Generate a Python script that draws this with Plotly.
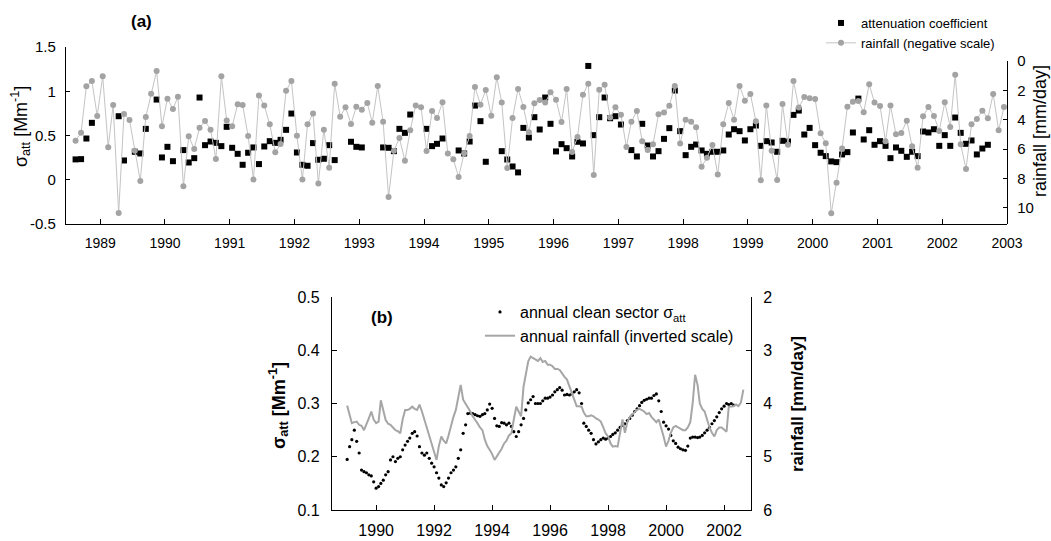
import pandas as pd
import plotly.graph_objects as go

W, H = 1051, 541
def px(x): return x / W
def py(y): return 1 - y / H

# ---------------- panel (a): monthly values, Aug 1988 - Dec 2002 ----------------
months_a = pd.date_range('1988-08-01', periods=173, freq='MS') + pd.Timedelta(days=14)

atten = [0.23, 0.233, 0.466, 0.643, None, None, None, None, 0.718, 0.218,
         None, 0.316, 0.297, 0.575, None, 0.906, 0.252, 0.372, 0.21, None,
         0.335, 0.195, 0.244, 0.929, 0.391, 0.432, 0.417, 0.38, 0.598, 0.361,
         0.293, 0.169, 0.305, 0.365, 0.177, 0.376, 0.436, 0.417, 0.451, 0.564,
         0.748, 0.308, 0.169, 0.158, 0.414, 0.226, 0.237, 0.391, 0.222, None,
         None, 0.429, 0.372, 0.365, None, None, None, 0.365, 0.361, 0.323,
         0.575, 0.530, 0.737, None, None, 0.575, 0.380, 0.406, 0.466, None,
         None, 0.331, 0.297, 0.432, 0.838, 0.662, 0.203, None, None, 0.323,
         0.229, 0.150, 0.083, 0.586, 0.477, 0.707, 0.568, 0.929, 0.632, 0.320,
         0.402, 0.357, 0.263, 0.429, 0.410, 1.286, 0.504, 0.707, 0.929, 0.695,
         0.718, 0.624, None, 0.335, 0.263, 0.632, 0.387, 0.263, 0.323, 0.462,
         0.583, 1.008, 0.549, 0.278, 0.372, 0.398, 0.331, 0.293, 0.316, 0.316,
         0.331, 0.511, 0.571, 0.549, 0.444, 0.571, 0.613, 0.383, 0.436, 0.421,
         0.316, 0.440, 0.432, 0.733, 0.782, 0.511, 0.586, 0.391, 0.305, 0.267,
         0.207, 0.199, 0.286, 0.312, 0.534, 0.917, 0.455, 0.560, 0.395, 0.436,
         0.383, 0.244, 0.365, 0.327, 0.259, 0.316, 0.267, 0.545, 0.534, 0.571,
         0.383, 0.504, 0.383, 0.703, 0.530, 0.406, 0.444, 0.286, 0.353, 0.395,
         None, None, None]

rain = [5.42, 4.88, 1.72, 1.36, 3.74, 1.04, 5.87, 2.99, 10.34, 3.61,
        4.01, 6.1, 8.16, 3.81, 2.22, 0.68, 4.44, 2.56, 3.27, 2.43,
        8.53, 5.12, 5.99, 4.54, 4.08, 4.67, 6.67, 1.04, 4.04, 4.44,
        2.95, 2.99, 5.10, 8.07, 2.34, 3.02, 4.31, 6.21, 5.65, 2.02,
        1.36, 5.08, 8.07, 4.31, 3.58, 8.34, 4.67, 7.26, 1.54, 3.79,
        3.15, 4.29, 3.11, 3.31, 2.86, 4.20, 1.70, 4.13, 9.25, 6.1,
        5.24, 6.78, 4.72, 3.02, 3.15, 6.12, 3.40, 3.88, 2.81, 6.30,
        6.69, 7.89, 6.28, 5.10, 1.77, 2.97, 1.97, 3.72, 1.11, 2.83,
        7.28, 3.88, 1.90, 3.13, 4.85, 2.88, 2.65, 2.83, 2.13, 2.63,
        4.15, 1.90, 6.19, 5.17, 2.29, 1.54, 7.76, 1.95, 1.61, 3.85,
        3.15, 3.65, 5.85, 4.13, 3.40, 5.46, 6.05, 5.67, 3.63, 3.51,
        3.04, 1.70, 5.62, 3.99, 4.13, 4.51, 7.19, 6.58, 5.71, 7.73,
        4.31, 2.86, 3.99, 1.70, 2.70, 2.24, 4.10, 8.12, 3.02, 6.10,
        8.10, 2.93, 5.69, 1.36, 3.17, 2.45, 2.54, 2.59, 4.92, 5.60,
        10.36, 8.28, 5.96, 3.11, 2.77, 2.72, 3.49, 1.59, 2.83, 3.06,
        5.46, 3.02, 4.99, 4.90, 4.06, 5.8, 7.26, 3.76, 3.13, 3.74,
        4.76, 2.81, 4.49, 0.93, 5.67, 7.35, 4.31, 3.95, 3.38, 3.90,
        2.24, 4.72, 3.13]

# ---------------- panel (b): annual running values ----------------
months_b_att = pd.date_range('1989-01-01', periods=161, freq='MS')
clean_att = [0.195, 0.219, 0.232, 0.25, 0.229, 0.207, 0.175, 0.172, 0.170, 0.166, 0.164, 0.153,
             0.141, 0.144, 0.150, 0.156, 0.166, 0.172, 0.194, 0.200, 0.191, 0.197, 0.200, 0.213,
             0.222, 0.229, 0.235, 0.244, 0.247, 0.239, 0.219, 0.207, 0.203, 0.207, 0.197, 0.188,
             0.181, 0.170, 0.160, 0.147, 0.144, 0.151, 0.160, 0.170, 0.175, 0.181, 0.197, 0.213,
             0.244, 0.260, 0.281, 0.282, 0.281, 0.279, 0.277, 0.276, 0.279, 0.281, 0.288, 0.299,
             0.291, 0.272, 0.258, 0.257, 0.264, 0.263, 0.260, 0.263, 0.257, 0.247, 0.238, 0.247,
             0.260, 0.272, 0.288, 0.301, 0.307, 0.313, 0.30, 0.30, 0.30, 0.305, 0.31, 0.31,
             0.312, 0.316, 0.322, 0.326, 0.33, 0.325, 0.316, 0.317, 0.316, 0.318, 0.322, 0.326,
             0.32, 0.30, 0.263, 0.257, 0.250, 0.244, 0.232, 0.224, 0.228, 0.232, 0.235, 0.233,
             0.235, 0.238, 0.242, 0.245, 0.25, 0.255, 0.259, 0.262, 0.268, 0.272, 0.278, 0.285,
             0.29, 0.296, 0.302, 0.306, 0.308, 0.31, 0.31, 0.315, 0.318, 0.305, 0.285, 0.265,
             0.258, 0.252, 0.24, 0.23, 0.225, 0.218, 0.215, 0.213, 0.212, 0.22, 0.235, 0.237,
             0.237, 0.236, 0.237, 0.24, 0.245, 0.25, 0.255, 0.262, 0.268, 0.275, 0.283, 0.29,
             0.295, 0.30, 0.298, 0.30, 0.297]

months_b_rain = pd.date_range('1989-01-01', periods=165, freq='MS')
annual_rain = [4.04, 4.2, 4.37, 4.35, 4.34, 4.4, 4.42, 4.5, 4.4, 4.28, 4.15, 4.3,
               4.37, 4.34, 3.94, 4.15, 4.31, 4.38, 4.4, 4.45, 4.5, 4.52, 4.56, 4.3,
               4.12, 4.12, 4.1, 4.06, 4.1, 4.12, 4.02, 4.15, 4.3, 4.45, 4.6, 4.75,
               4.9, 5.06, 4.8, 4.62, 4.7, 4.75, 4.6, 4.4, 4.25, 4.12, 3.9, 3.65,
               3.93, 4.0, 4.06, 4.15, 4.24, 4.3, 4.37, 4.45, 4.5, 4.68, 4.8, 4.87,
               4.95, 5.06, 5.0, 4.93, 4.85, 4.75, 4.7, 4.6, 4.56, 4.3, 4.06, 4.15,
               4.24, 3.68, 3.43, 3.21, 3.12, 3.15, 3.18, 3.2, 3.15, 3.22, 3.2, 3.27,
               3.27, 3.3, 3.35, 3.35, 3.37, 3.45, 3.5, 3.55, 3.68, 3.8, 3.95, 4.05,
               4.05, 4.06, 4.17, 4.24, 4.24, 4.22, 4.24, 4.28, 4.3, 4.34, 4.45, 4.56,
               4.62, 4.75, 4.81, 4.8, 4.81, 4.55, 4.3, 4.55, 4.35, 4.25, 4.2, 4.15,
               4.12, 4.1, 4.12, 4.15, 4.2, 4.18, 4.25, 4.3, 4.35, 4.3, 4.45, 4.62,
               4.81, 4.7, 4.55, 4.45, 4.42, 4.45, 4.48, 4.5, 4.5, 4.45, 4.35, 4.0,
               3.46, 3.65, 4.0, 4.1, 4.15, 4.3, 4.45, 4.55, 4.62, 4.5, 4.45, 4.45,
               4.5, 4.53, 4.06, 4.05, 4.05, 4.02, 4.05, 3.98, 3.74]

a_left_ticks = [-0.5, 0, 0.5, 1, 1.5]
a_left_text = ['-0.5', '0', '0.5', '1', '1.5']

FONT = 'Liberation Sans, Arial, sans-serif'
GRAY_PT = '#a3a3a3'
GRAY_LN = '#c4c4c4'

fig = go.Figure()
fig.add_trace(go.Scatter(x=months_a, y=rain, xaxis='x', yaxis='y2', mode='lines+markers',
                         name='rainfall (negative scale)', legend='legend', legendrank=2,
                         legendgroup='a2',
                         line=dict(color=GRAY_LN, width=1),
                         marker=dict(color=GRAY_PT, size=6, symbol='circle')))
fig.add_trace(go.Scatter(x=months_a, y=atten, xaxis='x', yaxis='y', mode='markers',
                         name='attenuation coefficient', legend='legend', legendrank=1,
                         legendgroup='a1',
                         marker=dict(color='black', size=6, symbol='square')))
fig.add_trace(go.Scatter(x=months_b_rain, y=annual_rain, xaxis='x3', yaxis='y4', mode='lines',
                         name='annual rainfall (inverted scale)', legend='legend2', legendrank=2,
                         line=dict(color='#a6a6a6', width=2)))
fig.add_trace(go.Scatter(x=months_b_att, y=clean_att, xaxis='x3', yaxis='y3', mode='markers',
                         name='annual clean sector σ<sub>att</sub>', legend='legend2', legendrank=1,
                         marker=dict(color='black', size=3.2)))

ax_common = dict(showline=True, linecolor='black', linewidth=1.3, ticks='inside',
                 tickcolor='black', showgrid=False, zeroline=False, mirror=False)

fig.update_layout(
    width=W, height=H, margin=dict(l=0, r=0, t=0, b=0, autoexpand=False),
    paper_bgcolor='white', plot_bgcolor='rgba(0,0,0,0)',
    font=dict(family=FONT, color='black', size=14),
    xaxis=dict(domain=[px(66), px(1007)], anchor='y', type='date',
               range=['1988-06-22', '2003-01-01'], dtick='M12', tick0='1989-01-01',
               tickformat='%Y', ticklen=5, tickfont=dict(size=14), ticklabelstandoff=6,
               **ax_common),
    yaxis=dict(domain=[py(224), py(47)], anchor='x', range=[-0.5, 1.5],
               tickmode='array', tickvals=a_left_ticks, ticktext=a_left_text,
               ticklen=4, tickfont=dict(size=15), ticklabelstandoff=6, **ax_common),
    yaxis2=dict(domain=[py(224), py(61)], anchor='x', side='right', range=[11.09, 0],
                dtick=2, ticklen=4, tickfont=dict(size=15), ticklabelstandoff=6, **ax_common),
    xaxis3=dict(domain=[px(332), px(751)], anchor='y3', type='date',
                range=['1988-06-24', '2002-12-06'], dtick='M24', tick0='1990-01-01',
                tickformat='%Y', ticklen=5, tickfont=dict(size=16), ticklabelstandoff=6,
                **ax_common),
    yaxis3=dict(domain=[py(510), py(297)], anchor='x3', range=[0.1, 0.5], dtick=0.1,
                tickformat='.1f', ticklen=5, tickfont=dict(size=16), ticklabelstandoff=8,
                **ax_common),
    yaxis4=dict(domain=[py(510), py(297)], anchor='x3', overlaying='y3', side='right',
                range=[6, 2], dtick=1, ticklen=5, tickfont=dict(size=16), ticklabelstandoff=8,
                **ax_common),
    legend=dict(x=px(821), y=py(8), xanchor='left', yanchor='top', bgcolor='rgba(0,0,0,0)',
                font=dict(size=13), itemwidth=30, traceorder='normal', tracegroupgap=6),
    legend2=dict(x=px(480), y=py(295), xanchor='left', yanchor='top', bgcolor='rgba(0,0,0,0)',
                 font=dict(size=16), itemwidth=30, traceorder='normal'),
    showlegend=True,
)

ann = [
    dict(text='<b>(a)</b>', x=px(141), y=py(22), font=dict(size=17)),
    dict(text='<b>(b)</b>', x=px(382), y=py(317), font=dict(size=17)),
    dict(text='σ<sub>att</sub> [Mm<sup>-1</sup>]', x=px(21), y=py(127), textangle=-90,
         font=dict(size=18)),
    dict(text='rainfall [mm/day]', x=px(1040), y=py(131), textangle=-90, font=dict(size=18)),
    dict(text='<b>σ<sub>att</sub> [Mm<sup>-1</sup>]</b>', x=px(278), y=py(406), textangle=-90,
         font=dict(size=18)),
    dict(text='<b>rainfall [mm/day]</b>', x=px(797), y=py(404), textangle=-90,
         font=dict(size=17)),
]
for a in ann:
    fig.add_annotation(xref='paper', yref='paper', showarrow=False,
                       xanchor='center', yanchor='middle', **a)

fig.write_html('out.html', config={'displayModeBar': False},
               post_script="document.body.style.margin='0';document.body.style.overflow='hidden';")
